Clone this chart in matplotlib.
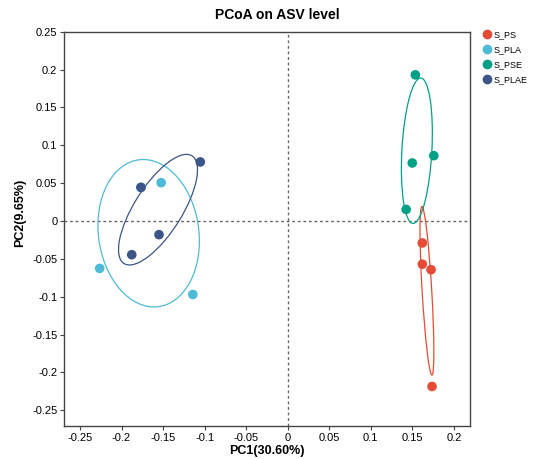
import numpy as np
import matplotlib
matplotlib.use('Agg')
import matplotlib.pyplot as plt
from matplotlib.patches import Ellipse
from matplotlib.lines import Line2D
from matplotlib.ticker import FuncFormatter

plt.rcParams['font.family'] = ['Liberation Sans', 'DejaVu Sans']

# 数据（从图中读取，每组4个样本）
groups = ['S_PS', 'S_PLA', 'S_PSE', 'S_PLAE']
colors = ['#E64B35', '#4DBBD5', '#00A087', '#3C5488']
ps_x = [0.162, 0.162, 0.1725, 0.1737]
ps_y = [-0.029, -0.057, -0.0643, -0.2185]
pla_x = [-0.1523, -0.2263, -0.1142, -0.1766]
pla_y = [0.0506, -0.0626, -0.097, 0.0444]
pse_x = [0.1536, 0.1499, 0.1758, 0.1425]
pse_y = [0.193, 0.0766, 0.0863, 0.0153]
plae_x = [-0.1766, -0.1052, -0.1549, -0.1877]
plae_y = [0.0444, 0.078, -0.018, -0.0445]
xs = [ps_x, pla_x, pse_x, plae_x]
ys = [ps_y, pla_y, pse_y, plae_y]

xticks = [-0.25, -0.2, -0.15, -0.1, -0.05, 0, 0.05, 0.1, 0.15, 0.2]
yticks = [-0.25, -0.2, -0.15, -0.1, -0.05, 0, 0.05, 0.1, 0.15, 0.2, 0.25]

fig = plt.figure(figsize=(5.35, 4.59), dpi=100)
ax = fig.add_axes([0.120, 0.0725, 0.759, 0.8585])

# 置信椭圆（样本协方差）
def conf_ellipse(x, y, color, n_std=1.3):
    cov = np.cov(x, y)
    vals, vecs = np.linalg.eigh(cov)
    order = vals.argsort()[::-1]
    vals, vecs = vals[order], vecs[:, order]
    angle = np.degrees(np.arctan2(vecs[1, 0], vecs[0, 0]))
    w, h = 2 * n_std * np.sqrt(vals)
    e = Ellipse((np.mean(x), np.mean(y)), w, h, angle=angle, fill=False,
                edgecolor=color, linewidth=0.9, zorder=2)
    ax.add_patch(e)

ax.axhline(0, color='#666666', linestyle=(0, (2, 2)), linewidth=1.0, zorder=1)
ax.axvline(0, color='#666666', linestyle=(0, (2, 2)), linewidth=1.0, zorder=1)

for i in range(len(groups)):
    conf_ellipse(np.array(xs[i]), np.array(ys[i]), colors[i])
    ax.scatter(xs[i], ys[i], s=48, c=colors[i], edgecolors='none', zorder=3)

ax.set_xlim(-0.269, 0.2197)
ax.set_ylim(-0.2703, 0.25)
ax.set_xticks(xticks)
ax.set_yticks(yticks)
fmt = FuncFormatter(lambda v, p: '0' if abs(v) < 1e-9 else ('%g' % round(v, 2)))
ax.xaxis.set_major_formatter(fmt)
ax.yaxis.set_major_formatter(fmt)
ax.tick_params(labelsize=8, length=3, width=0.8, color='#444444', pad=2)
for s in ax.spines.values():
    s.set_color('#444444')
    s.set_linewidth(1.0)

fig.text(277 / 535, 1 - 15 / 459, 'PCoA on ASV level', ha='center', va='center',
         fontsize=10, fontweight='bold')
fig.text(267 / 535, 1 - 451 / 459, 'PC1(30.60%)', ha='center', va='center',
         fontsize=9, fontweight='bold')
fig.text(20 / 535, 1 - 213 / 459, 'PC2(9.65%)', ha='center', va='center',
         fontsize=9, fontweight='bold', rotation=90)

handles = [Line2D([], [], marker='o', linestyle='none', markersize=7,
                  markerfacecolor=c, markeredgecolor='none') for c in colors]
fig.legend(handles, groups, loc='upper left', bbox_to_anchor=(482 / 535, 1 - 30 / 459),
           frameon=False, fontsize=6.5, handletextpad=0.1, labelspacing=0.68,
           borderaxespad=0, borderpad=0, handlelength=1.2)

fig.savefig('out.png', dpi=100)
